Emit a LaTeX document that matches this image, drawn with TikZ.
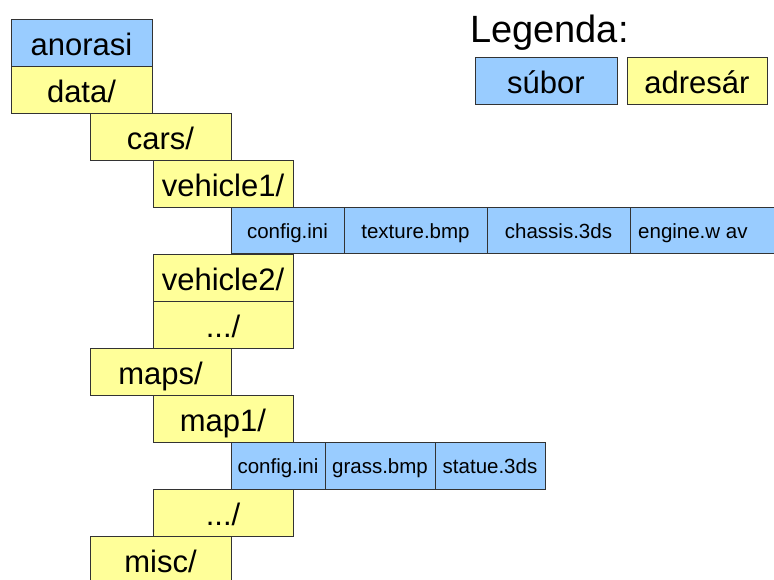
\documentclass[tikz,border=0pt]{standalone}
\usepackage{fontspec}
\setmainfont{Liberation Sans}
\definecolor{fileblue}{HTML}{99CCFF}
\definecolor{diryellow}{HTML}{FFFF99}
\definecolor{edge}{HTML}{333333}
\tikzset{
  box/.style={draw=edge, line width=0.8pt, inner sep=0pt, outer sep=0pt, anchor=north west,
    minimum height=47pt},
  big/.style={box, font=\fontsize{31}{31}\selectfont, text height=25pt, text depth=0pt},
  small/.style={box, font=\fontsize{20.5}{20.5}\selectfont, text height=16pt, text depth=0pt, minimum height=46pt},
  dirbox/.style={big, fill=diryellow, minimum width=141pt},
  dirbox2/.style={big, fill=diryellow, minimum width=140pt},
  filebig/.style={big, fill=fileblue},
  filebox/.style={small, fill=fileblue},
}
\begin{document}
\begin{tikzpicture}[x=1pt,y=-1pt]
\useasboundingbox (0,0) rectangle (774,579);
% tree
\node[filebig, minimum width=141pt] (anorasi) at (11,19) {anorasi};
\node[dirbox] (data) at (11,66) {data/};
\node[dirbox] (cars) at (90,113) {cars/};
\node[dirbox2] (vehicle1) at (153,160) {vehicle1/};
\node[filebox, minimum width=113pt] (cfg1) at (231,207) {config.ini};
\node[filebox, minimum width=143pt] (tex) at (344,207) {texture.bmp};
\node[filebox, minimum width=143pt] (chassis) at (487,207) {chassis.3ds};
\node[filebox, minimum width=170pt] (engine) at (630,207) {};
\node[font=\fontsize{20.5}{20.5}\selectfont, anchor=base west, inner sep=0pt] (enginetxt) at (638,238) {engine.w av};
\node[dirbox2, minimum height=47pt] (vehicle2) at (153,254.5) {vehicle2/};
\node[dirbox2, minimum height=46.5pt] (dots1) at (153,301.5) {.../};
\node[dirbox] (maps) at (90,348) {maps/};
\node[dirbox2] (map1) at (153,395) {map1/};
\node[filebox, minimum width=94pt, minimum height=47pt] (cfg2) at (231,442) {config.ini};
\node[filebox, minimum width=110pt, minimum height=47pt] (grass) at (325,442) {grass.bmp};
\node[filebox, minimum width=110pt, minimum height=47pt] (statue) at (435,442) {statue.3ds};
\node[dirbox2] (dots2) at (153,489) {.../};
\node[dirbox] (misc) at (90,536) {misc/};
% legend
\node[font=\fontsize{38}{38}\selectfont, anchor=base west, inner sep=0pt] (legenda) at (470,42) {Legenda:};
\node[filebig, minimum width=142pt] (subor) at (475,57) {súbor};
\node[dirbox2] (adresar) at (627,57) {adresár};
\end{tikzpicture}
\end{document}
